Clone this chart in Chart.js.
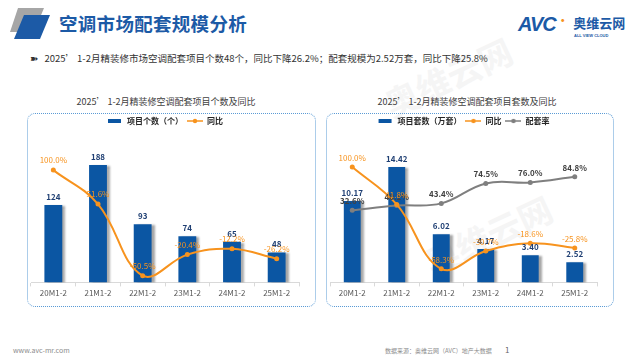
<!DOCTYPE html>
<html>
<head>
<meta charset="utf-8">
<script src="https://cdn.jsdelivr.net/npm/chart.js@4"></script>
<style>
  body { margin: 0; width: 640px; height: 360px; background: #fff; position: relative; overflow: hidden;
         font-family: "Noto Sans CJK SC", "Noto Sans", sans-serif; }
  .abs { position: absolute; }
  .title { left: 59px; top: 10px; font-size: 18.5px; font-weight: bold; color: #1c5aa6; letter-spacing: 0.3px; }
  .sub { left: 30px; top: 51px; font-size: 9.5px; color: #333; white-space: nowrap; }
  .ctitle { top: 95px; font-size: 9px; color: #404040; white-space: nowrap; transform: translateX(-50%); }
  .panel { border: 1.5px dotted #5b9bd5; border-radius: 8px; box-sizing: border-box; }
  .foot { top: 346px; font-size: 6px; color: #8c8c8c; white-space: nowrap; }
  .wm { color: #f5f5f5; font-weight: bold; white-space: nowrap; transform: rotate(-25deg); z-index: -1; }
</style>
</head>
<body>
<div class="abs wm" style="left:380px;top:52px;font-size:34px">奥维云网</div>
<div class="abs wm" style="left:420px;top:210px;font-size:34px">奥维云网</div>

<svg class="abs" style="left:10px;top:8px" width="46" height="34">
  <polygon points="8,0 34,0 24,24 0,24" fill="#a6a6a6"/>
  <polygon points="14,7 40,7 30,31 4,31" fill="#1c5aa6"/>
</svg>
<div class="abs title">空调市场配套规模分析</div>
<div class="abs" style="left:518px;top:12px;white-space:nowrap">
  <span style="font:italic bold 20px 'Liberation Sans';color:#1c5aa6;letter-spacing:-1px">AVC</span><span style="color:#f7931e;font-size:14px;position:relative;top:-6px">·</span>
  <span style="font-size:13px;font-weight:bold;color:#1c5aa6;position:relative;top:-3px">奥维云网</span>
  <div style="position:absolute;left:56px;top:21px;font:bold 4px 'Liberation Sans';color:#1c5aa6">ALL VIEW CLOUD</div>
</div>
<div class="abs sub">➽ &nbsp;&nbsp;2025’ 1-2月精装修市场空调配套项目个数48个，同比下降26.2%；配套规模为2.52万套，同比下降25.8%</div>

<div class="abs ctitle" style="left:166px">2025’ 1-2月精装修空调配套项目个数及同比</div>
<div class="abs ctitle" style="left:467px">2025’ 1-2月精装修空调配套项目套数及同比</div>

<div class="abs panel" style="left:27px;top:113px;width:289px;height:194px"></div>
<div class="abs panel" style="left:326px;top:113px;width:288px;height:194px"></div>

<div class="abs" style="left:27px;top:113px;width:288px;height:193px"><canvas id="c1"></canvas></div>
<div class="abs" style="left:326px;top:113px;width:287px;height:193px"><canvas id="c2"></canvas></div>

<div class="abs foot" style="left:13px;top:345px;font-size:7px">www.avc-mr.com</div>
<div class="abs foot" style="left:385px">数据来源：奥维云网（AVC）地产大数据</div>
<div class="abs foot" style="left:505px;top:344px;font-size:8px;color:#666">1</div>

<script>
// 数据
const categories = ['20M1-2', '21M1-2', '22M1-2', '23M1-2', '24M1-2', '25M1-2'];
const projectCount = [124, 188, 93, 74, 65, 48];
const countYoy = [100.0, 51.6, -50.5, -20.4, -12.2, -26.2];
const projectSets = [10.17, 14.42, 6.02, 4.17, 3.40, 2.52];
const setsYoy = [100.0, 41.8, -58.3, -30.7, -18.6, -25.8];
const matchRate = [32.6, 40.1, 43.4, 74.5, 76.0, 84.8];

const BLUE = '#0b56a3';
const ORANGE = '#f7931e';
const GRAY = '#7f7f7f';
const FONT = '"Noto Sans CJK SC", "Noto Sans", sans-serif';

// 图例小图标
function legendIcon(type, color) {
  const c = document.createElement('canvas');
  c.width = 16; c.height = 6;
  const x = c.getContext('2d');
  if (type === 'rect') {
    x.fillStyle = color;
    x.fillRect(1, 1, 13, 4);
  } else {
    x.strokeStyle = color; x.lineWidth = 1.5;
    x.beginPath(); x.moveTo(0, 3); x.lineTo(16, 3); x.stroke();
    x.fillStyle = color;
    x.beginPath(); x.arc(8, 3, 2.2, 0, Math.PI * 2); x.fill();
  }
  return c;
}

// 柱子阴影
const barShadow = {
  id: 'barShadow',
  beforeDatasetDraw(chart, args) {
    if (args.meta.type !== 'bar') return;
    const ctx = chart.ctx;
    ctx.save();
    ctx.shadowColor = 'rgba(0,0,0,0.35)';
    ctx.shadowOffsetX = 3;
    ctx.shadowOffsetY = 1;
    ctx.shadowBlur = 2;
  },
  afterDatasetDraw(chart, args) {
    if (args.meta.type !== 'bar') return;
    chart.ctx.restore();
  }
};

// 数据标签
const valueLabels = {
  id: 'valueLabels',
  afterDatasetsDraw(chart) {
    const ctx = chart.ctx;
    // 先画柱子标签，再画折线标签
    const order = chart.data.datasets.map((d, i) => i).sort((a, b) => chart.data.datasets[b].order - chart.data.datasets[a].order);
    order.forEach(i => {
      const ds = chart.data.datasets[i];
      const meta = chart.getDatasetMeta(i);
      ctx.save();
      ctx.font = (ds.labelBold ? 'bold ' : '') + '8px ' + FONT;
      ctx.fillStyle = ds.labelColor;
      ctx.textAlign = 'center';
      ctx.textBaseline = 'middle';
      meta.data.forEach((el, j) => {
        ctx.fillText(ds.fmt(ds.data[j]), el.x, el.y - ds.labelOffset);
      });
      ctx.restore();
    });
  }
};

const pct = v => v.toFixed(1) + '%';

function makeChart(id, datasets, yMax, y1Min, y1Max, barPct) {
  return new Chart(document.getElementById(id), {
    type: 'bar',
    data: { labels: categories, datasets: datasets },
    options: {
      responsive: true,
      maintainAspectRatio: false,
      animation: false,
      layout: { padding: { left: 4, right: 16, top: 0, bottom: 6 } },
      datasets: { bar: { categoryPercentage: 1, barPercentage: barPct } },
      plugins: {
        tooltip: { enabled: false },
        legend: {
          position: 'top',
          labels: {
            usePointStyle: true,
            pointStyleWidth: 16,
            padding: 4,
            color: '#262626',
            font: { family: FONT, size: 8, weight: 'bold' },
            generateLabels(chart) {
              return chart.data.datasets.map((ds, i) => ({
                text: ds.label,
                pointStyle: legendIcon(ds.type === 'line' ? 'line' : 'rect', ds.type === 'line' ? ds.borderColor : ds.backgroundColor),
                fillStyle: 'transparent',
                strokeStyle: 'transparent',
                lineWidth: 0,
                datasetIndex: i,
                fontColor: '#262626'
              }));
            }
          }
        }
      },
      scales: {
        x: {
          grid: { display: true, drawOnChartArea: false, drawTicks: true, tickLength: 4, color: '#d9d9d9' },
          border: { display: true, color: '#d9d9d9' },
          ticks: { color: '#595959', font: { family: FONT, size: 8 }, padding: 2 }
        },
        y: { display: false, min: 0, max: yMax },
        y1: { display: false, min: y1Min, max: y1Max }
      }
    },
    plugins: [barShadow, valueLabels]
  });
}

makeChart('c1', [
  { type: 'bar', label: '项目个数（个）', data: projectCount, backgroundColor: BLUE, yAxisID: 'y', order: 2,
    labelColor: '#1f3f73', labelBold: true, labelOffset: 8, fmt: v => String(v) },
  { type: 'line', label: '同比', data: countYoy, borderColor: ORANGE, backgroundColor: ORANGE, borderWidth: 2,
    pointRadius: 2.5, pointBackgroundColor: ORANGE, pointBorderWidth: 0, tension: 0.4, yAxisID: 'y1', order: 1,
    labelColor: ORANGE, labelOffset: 10, fmt: pct }
], 236, -60, 150, 0.4);

makeChart('c2', [
  { type: 'bar', label: '项目套数（万套）', data: projectSets, backgroundColor: BLUE, yAxisID: 'y', order: 3,
    labelColor: '#1f3f73', labelBold: true, labelOffset: 8, fmt: v => v.toFixed(2) },
  { type: 'line', label: '同比', data: setsYoy, borderColor: ORANGE, backgroundColor: ORANGE, borderWidth: 2,
    pointRadius: 2.5, pointBackgroundColor: ORANGE, pointBorderWidth: 0, tension: 0.4, yAxisID: 'y1', order: 1,
    labelColor: ORANGE, labelOffset: 9, fmt: pct },
  { type: 'line', label: '配套率', data: matchRate, borderColor: GRAY, backgroundColor: GRAY, borderWidth: 2,
    pointRadius: 2.5, pointBackgroundColor: GRAY, pointBorderWidth: 0, tension: 0.4, yAxisID: 'y1', order: 2,
    labelColor: '#404040', labelBold: true, labelOffset: 9, fmt: pct }
], 18.4, -79.5, 149.8, 0.38);
</script>
</body>
</html>
